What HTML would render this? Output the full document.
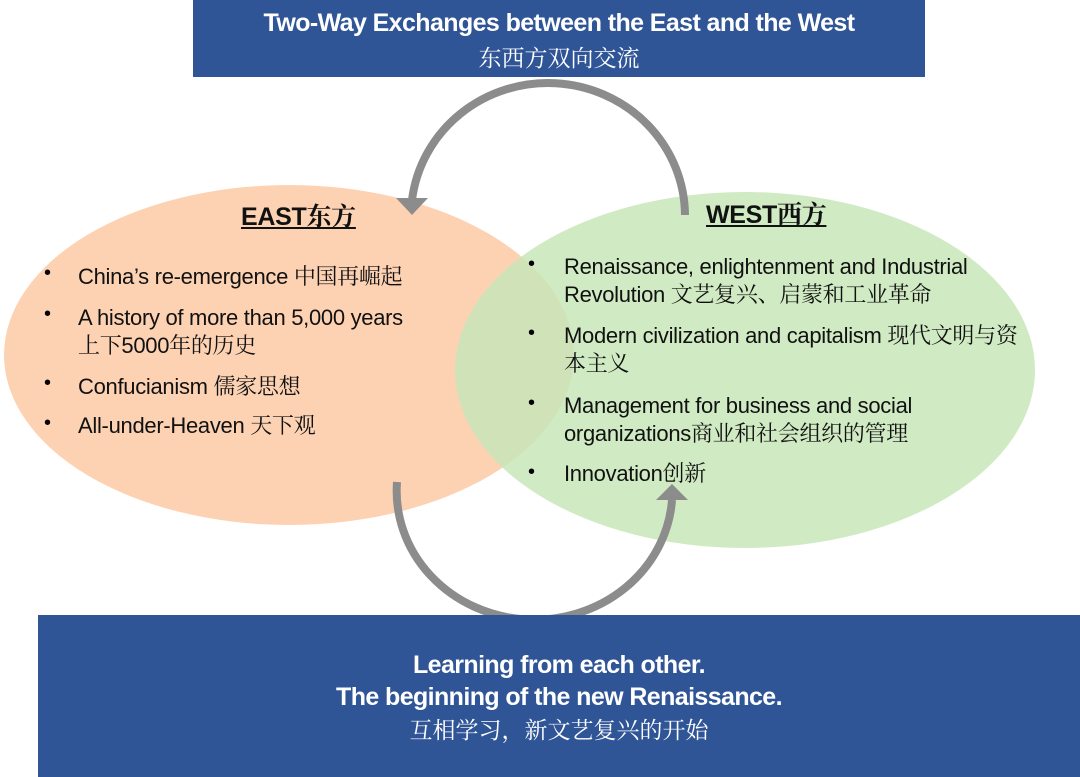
<!DOCTYPE html>
<html><head><meta charset="utf-8"><style>
body{margin:0;width:1080px;height:777px;position:relative;background:#fff;overflow:hidden;font-family:"Liberation Sans","Noto Serif CJK SC",serif;}
.t{position:absolute;color:#111;font-size:22px;line-height:28px;white-space:nowrap;letter-spacing:-0.3px}
.b{position:absolute;font-size:20px;}
.box{position:absolute;background:#2f5597;color:#fff;text-align:center;}
</style></head><body>
<svg width="1080" height="777" style="position:absolute;left:0;top:0">
<ellipse cx="289" cy="355" rx="285" ry="170" fill="#fdd2b3"/>
<ellipse cx="745" cy="370" rx="290" ry="178" fill="#c8e6b8" fill-opacity="0.85"/>
<path d="M685 215 A137 133 0 0 0 412 200" fill="none" stroke="#8c8c8c" stroke-width="8"/>
<polygon points="396,198 428,198 412,215" fill="#8c8c8c"/>
<path d="M397 482 A137 128 0 0 0 672 500" fill="none" stroke="#8c8c8c" stroke-width="8"/>
<polygon points="656,500 688,500 672,484" fill="#8c8c8c"/>
</svg>
<div class="box" style="left:193px;top:0;width:732px;height:77px;">
<div style="font-size:25px;font-weight:bold;margin-top:9px;letter-spacing:-0.6px">Two-Way Exchanges between the East and the West</div>
<div style="font-size:23px;margin-top:2px">东西方双向交流</div></div>
<div class="box" style="left:38px;top:615px;width:1042px;height:162px;">
<div style="font-size:25px;font-weight:bold;margin-top:34px;line-height:32px;letter-spacing:-0.6px">Learning from each other.<br>The beginning of the new Renaissance.</div>
<div style="font-size:23px;line-height:34px">互相学习，新文艺复兴的开始</div></div>
<div class="t" style="left:241px;top:203px;font-size:25px;font-weight:bold;text-decoration:underline">EAST东方</div>
<div class="t" style="left:706px;top:201px;font-size:25px;font-weight:bold;text-decoration:underline">WEST西方</div>
<div class="b" style="left:44px;top:262px">•</div><div class="t" style="left:78px;top:263px">China’s re-emergence 中国再崛起</div>
<div class="b" style="left:44px;top:303px">•</div><div class="t" style="left:78px;top:304px">A history of more than 5,000 years<br>上下5000年的历史</div>
<div class="b" style="left:44px;top:372px">•</div><div class="t" style="left:78px;top:373px">Confucianism 儒家思想</div>
<div class="b" style="left:44px;top:412px">•</div><div class="t" style="left:78px;top:412px">All-under-Heaven 天下观</div>
<div class="b" style="left:528px;top:253px">•</div><div class="t" style="left:564px;top:253px">Renaissance, enlightenment and Industrial<br>Revolution 文艺复兴、启蒙和工业革命</div>
<div class="b" style="left:528px;top:322px">•</div><div class="t" style="left:564px;top:322px">Modern civilization and capitalism 现代文明与资<br>本主义</div>
<div class="b" style="left:528px;top:392px">•</div><div class="t" style="left:564px;top:392px">Management for business and social<br>organizations商业和社会组织的管理</div>
<div class="b" style="left:528px;top:461px">•</div><div class="t" style="left:564px;top:460px">Innovation创新</div>
</body></html>
